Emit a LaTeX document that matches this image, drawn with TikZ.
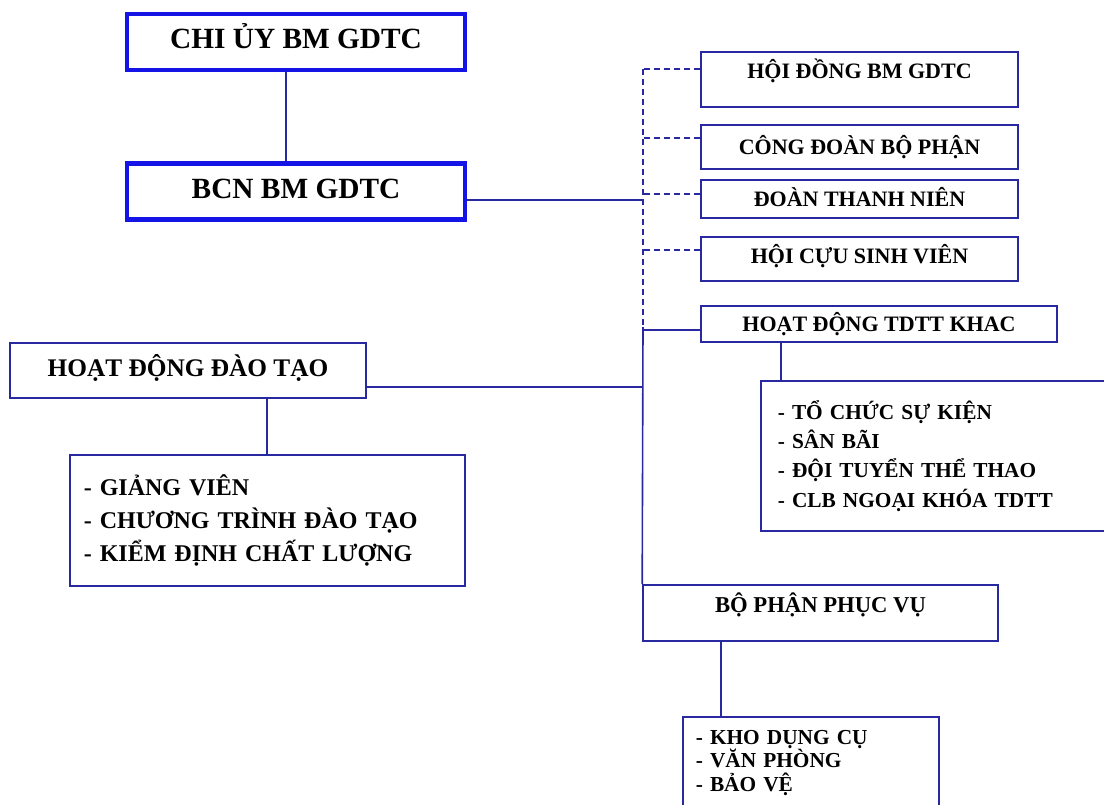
\documentclass[tikz,border=0pt]{standalone}
\usepackage{fontspec}
\setmainfont{Liberation Serif}
\usetikzlibrary{positioning}

\definecolor{linkblue}{RGB}{40,40,160}
\definecolor{titleblue}{RGB}{20,20,230}

\tikzset{
  box/.style={draw=linkblue,line width=1.2pt,inner sep=0pt,fill=white},
  titlebox/.style={draw=titleblue,line width=3.2pt,inner sep=0pt,fill=white,
    minimum width=253.5pt,minimum height=42pt,text height=14.5pt,
    font=\fontsize{22}{26}\selectfont\bfseries},
  rbox/.style={box,minimum width=237.75pt,text height=10.9pt,text depth=0pt,
    font=\fontsize{16.5}{20}\selectfont\bfseries},
  listbox/.style={box,anchor=north west,align=left},
  link/.style={draw=linkblue,line width=1.2pt},
  dashlink/.style={link,dash pattern=on 4.5pt off 3pt},
}

\begin{document}
\begin{tikzpicture}[x=0.75pt,y=-0.75pt]
\clip (0,0) rectangle (1104,804);
\fill[white] (0,0) rectangle (1104,804);

% trunk
\coordinate (ttop) at (643,69);
\coordinate (tmid) at (643,327);

% top boxes
\node[titlebox,text depth=5.25pt] (chi) at (296,42) {CHI ỦY BM GDTC};
\node[titlebox,text depth=4.5pt] (bcn) at (296,191.5) {BCN BM GDTC};

% right column
\node[rbox,minimum height=41.25pt,text depth=12pt] (hoidong) at (859.5,79.5) {HỘI ĐỒNG BM GDTC};
\node[rbox,minimum height=33pt] (congdoan) at (859.5,147) {CÔNG ĐOÀN BỘ PHẬN};
\node[rbox,minimum height=28.5pt] (doan) at (859.5,199) {ĐOÀN THANH NIÊN};
\node[rbox,minimum height=33pt,text depth=3.75pt] (cuusv) at (859.5,259) {HỘI CỰU SINH VIÊN};
\node[rbox,minimum width=267pt,minimum height=27pt] (tdtt) at (879,324) {HOẠT ĐỘNG TDTT KHAC};
\node[listbox,text width=238.5pt,inner xsep=12.75pt,minimum height=112.5pt,
  font=\fontsize{16}{22}\selectfont\bfseries] (tdttlist) at (760,380)
  {- TỔ CHỨC SỰ KIỆN\\- SÂN BÃI\\- ĐỘI TUYỂN THỂ THAO\\- CLB NGOẠI KHÓA TDTT};

% left column
\node[box,minimum width=267pt,minimum height=41.25pt,text height=12.5pt,text depth=3pt,
  font=\fontsize{19}{23}\selectfont\bfseries] (daotao) at (188,370.5) {HOẠT ĐỘNG ĐÀO TẠO};
\node[listbox,text width=275.25pt,inner xsep=10.5pt,minimum height=98.25pt,
  font=\fontsize{18}{25}\selectfont\bfseries] (daotaolist) at (69,454)
  {- GIẢNG VIÊN\\- CHƯƠNG TRÌNH ĐÀO TẠO\\- KIỂM ĐỊNH CHẤT LƯỢNG};

% bottom
\node[box,minimum width=266.25pt,minimum height=42pt,text height=11.2pt,text depth=11.25pt,
  font=\fontsize{17}{20}\selectfont\bfseries] (phucvu) at (820.5,613) {BỘ PHẬN PHỤC VỤ};
\node[listbox,text width=172.5pt,inner xsep=9.75pt,minimum height=69pt,
  font=\fontsize{16}{17.6}\selectfont\bfseries] (phucvulist) at (682,716)
  {- KHO DỤNG CỤ\\- VĂN PHÒNG\\- BẢO VỆ};

% connectors
\draw[link] ([xshift=-7.5pt]chi.south) -- ([xshift=-7.5pt]bcn.north);
\draw[dashlink] (ttop) -- (tmid);
\draw[link] (tmid) -- (phucvu.north west);
\foreach \n/\s in {hoidong/-10.5,congdoan/-9,doan/-5,cuusv/-9}
  \draw[dashlink] (\n.west) ++(0,\s) coordinate (e) -- (e -| ttop);
\draw[link] (bcn.east) ++(0,8.5) coordinate (e) -- (e -| ttop);
\draw[link] (tdtt.west) ++(0,6) coordinate (e) -- (e -| ttop);
\draw[link] (daotao.east) ++(0,16.5) coordinate (e) -- (e -| ttop);
\draw[link] (tdtt.south) ++(-98,0) coordinate (e) -- (e |- tdttlist.north);
\draw[link] (daotao.south) ++(79,0) coordinate (e) -- (e |- daotaolist.north);
\draw[link] (phucvu.south) ++(-99.5,0) coordinate (e) -- (e |- phucvulist.north);
\end{tikzpicture}
\end{document}
